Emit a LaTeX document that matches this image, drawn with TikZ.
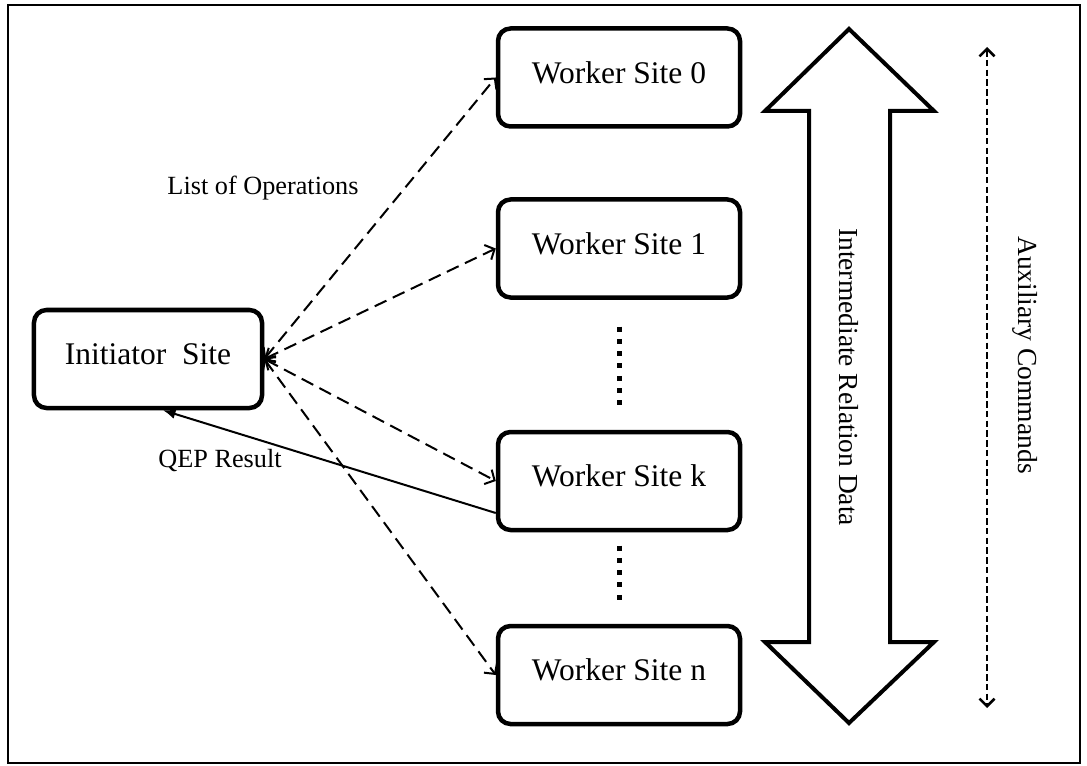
\documentclass[tikz,border=0pt]{standalone}
\usepackage{fontspec}
\setmainfont{Liberation Serif}
\usepackage{tikz}
\usetikzlibrary{arrows.meta}
\definecolor{figline}{RGB}{0,0,0}
\tikzset{
  site/.style ={draw=figline, line width=1.8pt, rounded corners=5pt, fill=white,
                minimum width=96.8pt, minimum height=39.2pt, inner sep=0pt,
                text height=8.6pt, text depth=4pt,
                font=\fontsize{12.6}{14}\selectfont},
  ops/.style  ={draw=figline, line width=0.8pt, dash pattern=on 5.2pt off 2.8pt,
                {Straight Barb[length=3pt,width=6.5pt]}-{Straight Barb[length=3pt,width=6.5pt]}},
  res/.style  ={draw=figline, line width=0.8pt, -{Latex[length=5pt,width=4pt]}},
  aux/.style  ={draw=figline, line width=1pt, dash pattern=on 2.6pt off 1.3pt,
                {Straight Barb[length=3pt,width=6pt]}-{Straight Barb[length=3pt,width=6pt]}},
  bigarr/.style={draw=figline, fill=white, line width=1.6pt, line join=miter},
  vdots/.style={draw=figline, line width=2pt, dash pattern=on 2pt off 2.93pt},
  lab/.style  ={font=\fontsize{10.5}{12}\selectfont, inner sep=1pt},
  labv/.style ={font=\fontsize{11}{13}\selectfont, inner sep=1pt, rotate=-90},
}

\begin{document}
\begin{tikzpicture}[x=0.4pt,y=-0.4pt]
  \useasboundingbox (0,0) rectangle (1087,766);
  \draw[figline, line width=0.8pt] (8,5) rectangle (1080,763);
  % sites
  \node[site, minimum width=91.2pt] (init) at (148,359) {Initiator~ Site};
  \node[site] (w0) at (619,77.5) {Worker Site 0};
  \node[site] (w1) at (619,248.5) {Worker Site 1};
  \node[site] (wk) at (619,481) {Worker Site k};
  \node[site] (wn) at (619,675) {Worker Site n};
  \draw[vdots] (619,326.5) -- (619,405.5);
  \draw[vdots] (619,545.5) -- (619,600);
  % operations and result
  \draw[ops] (init.east) -- (w0.west);
  \draw[ops] (init.east) -- (w1.west);
  \draw[ops] (init.east) -- (wk.west);
  \draw[ops] (init.east) -- (wn.west);
  \draw[res] ([yshift=-12.8pt]wk.west) -- ([xshift=6pt]init.south);
  \node[lab] (opslab) at (263,188) {List of Operations};
  \node[lab] (reslab) at (220,461) {QEP Result};
  % intermediate data arrow
  \draw[bigarr] (849,29) -- (934,111) -- (890,111) -- (890,642) -- (934,642)
    -- (849,723) -- (765,642) -- (809,642) -- (809,111) -- (765,111) -- cycle;
  \node[labv] (irdata) at (849,377) {Intermediate Relation Data};
  % auxiliary commands
  \coordinate (auxtop) at (987,47);
  \coordinate (auxbot) at (987,708);
  \draw[aux] (auxtop) -- (auxbot);
  \node[labv] (auxlab) at (1025,355) {Auxiliary Commands};
\end{tikzpicture}
\end{document}
